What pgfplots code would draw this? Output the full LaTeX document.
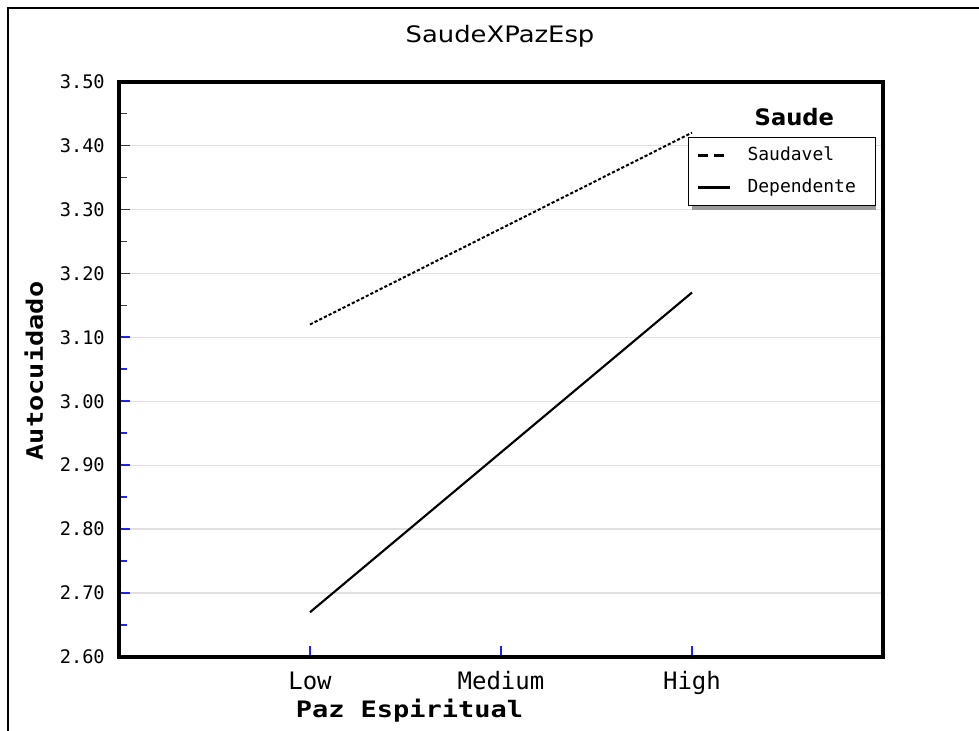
\documentclass[border=0pt]{standalone}
\usepackage{pgfplots}
\pgfplotsset{compat=1.18}
\usepackage{fontspec}
\setmainfont{DejaVu Sans}
\newfontfamily\dmono{DejaVu Sans Mono}
\definecolor{gridgray}{RGB}{225,225,225}
\definecolor{tickblue}{RGB}{30,30,255}

\begin{document}
\begin{tikzpicture}
\begin{scope}[x=0.75pt,y=-0.75pt,shift={(-119,-657)}]
\path[use as bounding box] (0,0) rectangle (979,731);
\draw[line width=1.5pt] (8.5,731) -- (8.5,8.5) -- (979,8.5);
\end{scope}
\begin{axis}[
  scale only axis, width=573pt, height=431.6pt,
  xmin=-1, xmax=3, ymin=2.6, ymax=3.5,
  xtick={0,1,2}, xticklabels={Low,Medium,High},
  ytick={2.6,2.7,2.8,2.9,3.0,3.1,3.2,3.3,3.4,3.5},
  yticklabels={2.60,2.70,2.80,2.90,3.00,3.10,3.20,3.30,3.40,3.50},
  minor y tick num=1,
  tick align=inside, xtick pos=bottom, ytick pos=left,
  major tick length=8.25pt, minor tick length=5.8pt,
  tick style={tickblue, line width=1.2pt},
  minor tick style={tickblue, line width=1.2pt},
  ymajorgrids, major grid style={gridgray, line width=1pt},
  axis line style={line width=3pt, line cap=rect},
  yticklabel style={font=\dmono\fontsize{14}{16}\selectfont, inner sep=0pt, anchor=east, xshift=-10.5pt},
  xticklabel style={font=\dmono\fontsize{18}{20}\selectfont, inner sep=0pt, anchor=base, yshift=-24.75pt},
  every axis title shift=0pt,
  title={\scalebox{1.14}[1]{SaudeXPazEsp}},
  title style={at={(axis description cs:0.4987,1.0686)}, anchor=base, inner sep=0pt, font=\fontsize{17}{20}\selectfont},
  xlabel={\scalebox{1.19}[1]{Paz Espiritual}},
  xlabel style={at={(axis description cs:0.3802,-0.1043)}, anchor=base, inner sep=0pt, font=\dmono\bfseries\fontsize{17}{20}\selectfont},
  ylabel={\scalebox{1.19}[1]{Autocuidado}},
  ylabel style={at={(axis description cs:-0.0995,0.497)}, anchor=base, inner sep=0pt, font=\dmono\bfseries\fontsize{17}{20}\selectfont},
  legend cell align=left,
  legend style={at={(axis description cs:0.7448,0.9036)}, anchor=north west,
    draw=black, line width=0.75pt, fill=white,
    inner xsep=6pt, inner ysep=7pt, row sep=11pt, column sep=12pt,
    font=\dmono\fontsize{13.5}{16}\selectfont,
    nodes={inner sep=0pt, text height=10pt, text depth=3pt}},
]
\fill[black!40] (axis description cs:0.7500,0.8967) rectangle (axis description cs:0.9908,0.7768);
\addplot[black, line width=1.5pt, dash pattern=on 2.4pt off 1.5pt,
  legend image code/.code={\draw[black,line width=2.25pt,dash pattern=on 7.5pt off 4.5pt] (0pt,0pt) -- (24pt,0pt);}]
  coordinates {(0,3.12) (1,3.27) (2,3.42)};
\addlegendentry{\makebox[90pt][l]{Saudavel}}
\addplot[black, line width=1.6pt,
  legend image code/.code={\draw[black,line width=2.25pt] (0pt,0pt) -- (24pt,0pt);}]
  coordinates {(0,2.67) (1,2.92) (2,3.17)};
\addlegendentry{\makebox[90pt][l]{Dependente}}
\node[anchor=base, font=\bfseries\fontsize{17}{20}\selectfont, inner sep=0pt] at (axis description cs:0.884,0.9244) {Saude};
\end{axis}
\end{tikzpicture}
\end{document}
